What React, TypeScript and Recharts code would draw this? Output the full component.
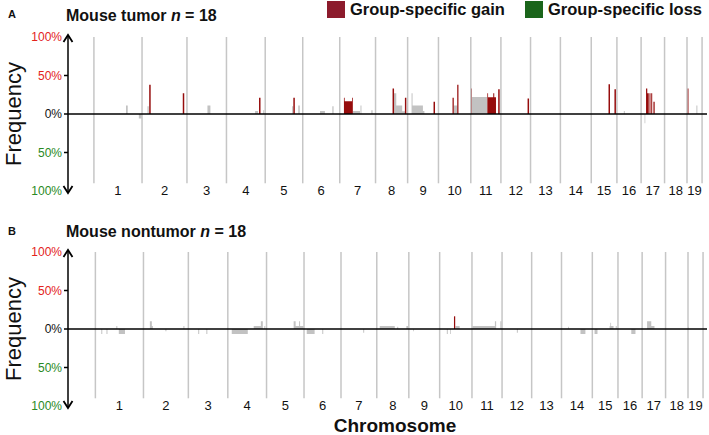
import React from 'react';
import { ComposedChart, Area, XAxis, YAxis, ReferenceLine } from 'recharts';

const chromosomes = ['1', '2', '3', '4', '5', '6', '7', '8', '9', '10', '11', '12', '13', '14', '15', '16', '17', '18', '19'];
const chromLengthsMb = [195, 182, 160, 157, 152, 150, 145, 130, 125, 131, 122, 120, 121, 125, 104, 98, 95, 91, 61];

const yTicks = [100, 50, 0, -50, -100];
const yTickLabels = ['100%', '50%', '0%', '50%', '100%'];

// [chromosome, start Mb, end Mb, frequency %] (negative = loss)
type Seg = [number, number, number, number];

const tumorAll: Seg[] = [
  [1, 130, 137, 11], [1, 182, 194, -6],
  [2, 22, 27, 10],
  [3, 83, 95, 11],
  [4, 116, 128, 4], [4, 149, 153, 5],
  [5, 109, 114, 10], [5, 134, 140, 11],
  [6, 70, 90, 4], [6, 120, 125, 10],
  [7, 53, 82, 4], [7, 84, 88, 11], [7, 128, 133, 5],
  [8, 72, 84, 27], [8, 84, 108, 11], [8, 108, 120, 3.5],
  [9, 16, 20, 27], [9, 20, 62, 11], [9, 62, 68, 4],
  [10, 62, 76, 11],
  [11, 4, 67, 22],
  [16, 28, 32, 4],
  [17, 14, 17, -12],
  [19, 38, 42, 11],
];

const tumorGain: Seg[] = [
  [2, 29, 35, 38], [2, 165, 171, 27],
  [4, 132, 138, 21],
  [5, 114, 120, 21],
  [7, 17, 20, 21], [7, 20, 50, 16.5], [7, 50, 53, 21],
  [8, 69, 75, 33], [8, 119, 125, 21],
  [9, 105, 111, 16],
  [10, 57, 62, 21], [10, 76, 81, 38],
  [11, 0, 4, 33], [11, 67, 70, 27], [11, 70, 91, 21.6], [11, 91, 95, 27], [11, 95, 102, 21.6], [11, 111, 117, 32],
  [12, 108, 114, 20],
  [15, 70, 76, 38.6], [15, 94, 100, 32],
  [17, 20, 25, 33], [17, 25, 31, 27], [17, 34, 38, 27], [17, 41, 45, 27], [17, 50, 55, 16],
  [19, 0, 6, 33],
];

const nontumorAll: Seg[] = [
  [1, 24, 28, -6.5], [1, 45, 49, -6.5], [1, 85, 89, 4], [1, 95, 120, -6.5],
  [2, 26, 34, 10], [2, 34, 38, 4], [2, 89, 93, -3], [2, 162, 166, 4],
  [3, 40, 44, -6.5], [3, 73, 77, -6.5],
  [4, 16, 81, -6.5], [4, 105, 134, 4], [4, 134, 142, 10], [4, 148, 152, 4],
  [5, 110, 118, 10], [5, 118, 132, 4], [5, 132, 136, 10], [5, 136, 151, 4],
  [6, 11, 43, -6.5], [6, 74, 78, -6.5],
  [7, 90, 94, -5],
  [8, 12, 73, 4], [8, 83, 87, 3], [8, 120, 129, 4],
  [9, 18, 21, -3],
  [10, 29, 33, -6.5], [10, 43, 46, -6.5], [10, 64, 81, 4],
  [11, 1, 93, 4], [11, 93, 98, 10], [11, 115, 120, 10],
  [12, 60, 64, -5],
  [14, 27, 30, 3], [14, 77, 97, -6.5],
  [15, 9, 21, -6.5], [15, 70, 73, 4], [15, 73, 76, 8], [15, 76, 86, 4], [15, 95, 99, 4],
  [16, 54, 71, -6.5],
  [17, 20, 37, 10], [17, 37, 50, 4],
  [19, 0, 4, 3],
];

const nontumorGain: Seg[] = [[10, 58, 63, 16.5]];

const legendItems = [
  { label: 'Group-specific gain', color: '#8c1b2c' },
  { label: 'Group-specific loss', color: '#1b651b' },
];

const GAIN = '#960c0c';
const GRAY = '#c2c2c2';
const FONT = '"Liberation Sans", Arial, sans-serif';

const chromStarts = chromLengthsMb.map((_, i) => chromLengthsMb.slice(0, i).reduce((a, b) => a + b, 0));
const boundaries = [...chromStarts, chromStarts[18] + chromLengthsMb[18]];
const centers = chromStarts.map((s, i) => s + chromLengthsMb[i] / 2);

const toSteps = (segs: Seg[]) =>
  segs.flatMap(([c, s, e, v]) => {
    const g = chromStarts[c - 1];
    return [
      { x: g + s, y: 0 },
      { x: g + s, y: v },
      { x: g + e, y: v },
      { x: g + e, y: 0 },
    ];
  });

const ChromTick = (props: any) => {
  const { x, y, payload } = props;
  const i = centers.indexOf(payload.value);
  return (
    <text x={x} y={y - 1} textAnchor="middle" dominantBaseline="central" fontSize={13} fill="#111" fontFamily={FONT}>
      {chromosomes[i]}
    </text>
  );
};

const FreqTick = (props: any) => {
  const { x, y, payload } = props;
  const v = payload.value;
  const ax = x + 6;
  const color = v > 0 ? '#e3231c' : v < 0 ? '#2a8a24' : '#111';
  return (
    <g>
      <text x={x} y={y} textAnchor="end" dominantBaseline="central" fontSize={12} fill={color} fontFamily={FONT}>
        {yTickLabels[yTicks.indexOf(v)]}
      </text>
      {Math.abs(v) !== 100 && <line x1={ax - 4} x2={ax} y1={y} y2={y} stroke="#000" strokeWidth={1.5} />}
      {v === 100 && (
        <path d={`M${ax - 4.5},${y + 5} L${ax},${y - 2} L${ax + 4.5},${y + 5} M${ax},${y - 2} L${ax},${y}`} stroke="#000" strokeWidth={1.8} fill="none" />
      )}
      {v === -100 && (
        <path d={`M${ax - 4.5},${y - 5} L${ax},${y + 2} L${ax + 4.5},${y - 5} M${ax},${y + 2} L${ax},${y}`} stroke="#000" strokeWidth={1.8} fill="none" />
      )}
    </g>
  );
};

const Panel = ({ all, gain, domain }: { all: Seg[]; gain: Seg[]; domain: [number, number] }) => (
  <ComposedChart width={709} height={205} margin={{ top: 37, right: 2, bottom: 0, left: 0 }}>
    <XAxis
      type="number"
      dataKey="x"
      domain={domain}
      allowDataOverflow
      ticks={centers}
      interval={0}
      height={14}
      axisLine={false}
      tickLine={false}
      tickSize={0}
      tickMargin={0}
      tick={(p: any) => <ChromTick {...p} />}
    />
    <YAxis
      type="number"
      domain={[-100, 100]}
      allowDataOverflow
      ticks={yTicks}
      interval={0}
      width={68}
      axisLine={{ stroke: '#000', strokeWidth: 1.5 }}
      tickLine={false}
      tickSize={5}
      tickMargin={1}
      tick={(p: any) => <FreqTick {...p} />}
      label={{ value: 'Frequency', angle: -90, position: 'insideLeft', offset: 13, style: { textAnchor: 'middle', fontSize: 22, fill: '#111', fontFamily: FONT } }}
    />
    {boundaries.map((b) => (
      <ReferenceLine key={b} segment={[{ x: b, y: 100 }, { x: b, y: -90 }]} stroke="#c6c6c6" strokeWidth={1.5} />
    ))}
    <Area data={toSteps(all)} dataKey="y" type="linear" stroke="none" fill={GRAY} fillOpacity={1} baseValue={0} dot={false} activeDot={false} isAnimationActive={false} />
    <Area data={toSteps(gain)} dataKey="y" type="linear" stroke="none" fill={GAIN} fillOpacity={1} baseValue={0} dot={false} activeDot={false} isAnimationActive={false} />
    <ReferenceLine y={0} stroke="#000" strokeWidth={1.5} />
  </ComposedChart>
);

const abs = (left: number, top: number, extra: React.CSSProperties = {}): React.CSSProperties => ({
  position: 'absolute',
  left,
  top,
  lineHeight: 1,
  whiteSpace: 'nowrap',
  fontFamily: FONT,
  ...extra,
});

export default function App() {
  return (
    <div style={{ position: 'absolute', left: 0, top: 0, width: 709, height: 435, background: '#fff', fontFamily: FONT, color: '#111' }}>
      <div style={{ position: 'absolute', left: 0, top: 0 }}>
        <Panel all={tumorAll} gain={tumorGain} domain={[-105, 2484]} />
      </div>
      <div style={{ position: 'absolute', left: 0, top: 215 }}>
        <Panel all={nontumorAll} gain={nontumorGain} domain={[-111, 2480]} />
      </div>

      <div style={abs(8, 9, { fontSize: 11, fontWeight: 700 })}>A</div>
      <div style={abs(66, 8, { fontSize: 16, fontWeight: 700 })}>
        Mouse tumor <i>n</i> = 18
      </div>
      {legendItems.map((it, i) => (
        <div key={it.label} style={abs(i === 0 ? 327 : 525, 1, { display: 'flex', alignItems: 'center', fontSize: 16.5, fontWeight: 700 })}>
          <span style={{ display: 'inline-block', width: 18, height: 17, background: it.color, marginRight: 5 }} />
          {it.label}
        </div>
      ))}

      <div style={abs(8, 226, { fontSize: 11, fontWeight: 700 })}>B</div>
      <div style={abs(66, 224, { fontSize: 16, fontWeight: 700 })}>
        Mouse nontumor <i>n</i> = 18
      </div>
      <div style={abs(0, 416, { width: 790, textAlign: 'center', fontSize: 19, fontWeight: 700 })}>Chromosome</div>
    </div>
  );
}
